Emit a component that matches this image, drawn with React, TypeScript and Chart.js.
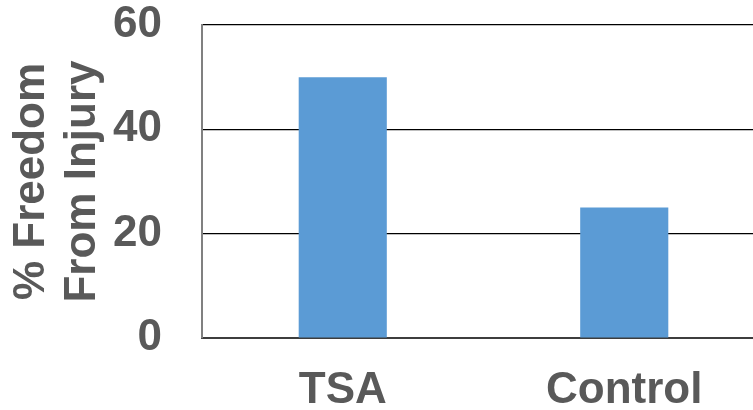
import { useEffect, useRef } from "react";
import { Chart, registerables } from "chart.js";

Chart.register(...registerables);

// Chart data
const categories = ["TSA", "Control"];
const freedomValues = [50, 25];
const yTitleLines = ["% Freedom", "From Injury"];

const FONT = "'Liberation Sans', Arial, sans-serif";
const TEXT_GRAY = "#595959";

export default function App() {
  const chartRef = useRef<HTMLCanvasElement>(null);
  const chartInstance = useRef<Chart | null>(null);

  useEffect(() => {
    if (!chartRef.current) return;
    if (chartInstance.current) chartInstance.current.destroy();

    const ctx = chartRef.current.getContext("2d");
    if (!ctx) return;

    chartInstance.current = new Chart(ctx, {
      type: "bar",
      data: {
        labels: categories,
        datasets: [
          {
            data: freedomValues,
            backgroundColor: "#5B9BD5",
            borderWidth: 0,
            categoryPercentage: 1,
            barPercentage: 0.313,
          },
        ],
      },
      options: {
        responsive: false,
        animation: false,
        layout: { padding: { top: 25, left: 0, right: 0, bottom: 0 } },
        plugins: {
          legend: { display: false },
          tooltip: { enabled: false },
        },
        scales: {
          x: {
            grid: { display: false, drawTicks: false },
            border: { display: true, color: "#3d3d3d", width: 2 },
            ticks: {
              color: TEXT_GRAY,
              padding: 31,
              font: { family: FONT, size: 44, weight: "bold", lineHeight: 1 },
            },
            afterFit: (scale: any) => {
              scale.height = 72;
              scale.paddingLeft = 0;
              scale.paddingRight = 0;
            },
          },
          y: {
            min: 0,
            max: 60,
            ticks: {
              stepSize: 20,
              color: TEXT_GRAY,
              padding: 40,
              font: { family: FONT, size: 44, weight: "bold", lineHeight: 1 },
            },
            grid: { color: "#000000", lineWidth: 1.2, drawTicks: false },
            border: { display: true, color: "#808080", width: 2 },
            title: {
              display: true,
              text: yTitleLines,
              color: TEXT_GRAY,
              padding: { top: 6, bottom: 0 },
              font: { family: FONT, size: 44, weight: "bold", lineHeight: 1.16 },
            },
            afterFit: (scale: any) => {
              scale.width = 202;
              scale.paddingTop = 0;
              scale.paddingBottom = 0;
            },
          },
        },
      },
    });

    return () => {
      if (chartInstance.current) {
        chartInstance.current.destroy();
        chartInstance.current = null;
      }
    };
  }, []);

  return (
    <div
      style={{
        position: "fixed",
        left: 0,
        top: 0,
        width: 753,
        height: 410,
        overflow: "hidden",
        background: "#fff",
      }}
    >
      <canvas ref={chartRef} width={765} height={410} style={{ display: "block" }} />
    </div>
  );
}
